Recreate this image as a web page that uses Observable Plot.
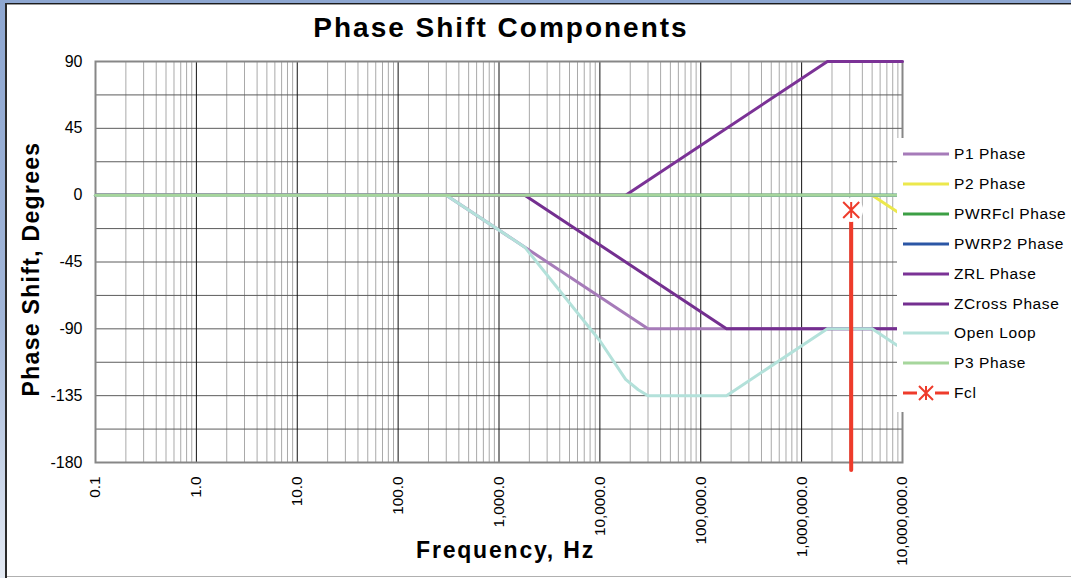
<!DOCTYPE html>
<html>
<head>
<meta charset="utf-8">
<script src="https://cdn.jsdelivr.net/npm/d3@7"></script>
<script src="https://cdn.jsdelivr.net/npm/@observablehq/plot@0.6"></script>
<style>
html, body { margin: 0; padding: 0; width: 1071px; height: 578px; overflow: hidden; background: #fff; }
#wrap { position: relative; width: 1071px; height: 578px; font-family: "Liberation Sans", Arial, sans-serif; color: #000; }
.abs { position: absolute; }
#chart { position: absolute; left: 0; top: 0; }
#title { left: 0; width: 1002px; top: 12px; text-align: center; font-weight: bold; font-size: 28px; letter-spacing: 2px; white-space: nowrap; }
#xtitle { left: 0; width: 1011px; top: 537px; text-align: center; font-weight: bold; font-size: 23px; letter-spacing: 1.8px; white-space: nowrap; }
#ytitle { left: 31px; top: 269px; transform: translate(-50%, -50%) rotate(-90deg); font-weight: bold; font-size: 23px; letter-spacing: 1.3px; white-space: nowrap; }
#legend { left: 897px; top: 138px; width: 174px; height: 274px; background: #fff; }
.item { position: absolute; left: 0; height: 20px; display: flex; align-items: center; white-space: nowrap; font-size: 15.5px; letter-spacing: 0.6px; }
.item svg { display: block; margin-right: 3px; }
</style>
</head>
<body>
<div id="wrap">
  <div class="abs" style="left:0;top:0;width:1071px;height:3px;background:#8ea7d1;"></div>
  <div class="abs" style="left:0;top:0;width:6px;height:578px;background:linear-gradient(#8ea7d1 0%, #a2b6d8 55%, #e4eaf3 100%);"></div>
  <div class="abs" style="left:6px;top:3px;width:1065px;height:1px;background:#1c1c1c;"></div>
  <div class="abs" style="left:6px;top:4px;width:1065px;height:1px;background:#9a9a9a;"></div>
  <div class="abs" style="left:5px;top:3px;width:2px;height:575px;background:#2a2a2a;"></div>
  <div class="abs" style="left:7px;top:576px;width:1064px;height:1px;background:#b0b0b0;"></div>
  <div id="chart"></div>
  <div id="title" class="abs">Phase Shift Components</div>
  <div id="xtitle" class="abs">Frequency, Hz</div>
  <div id="ytitle" class="abs">Phase Shift, Degrees</div>
  <div id="legend" class="abs"></div>
</div>
<script>
// ---- Data ----
const seriesNames  = ["P1 Phase", "P2 Phase", "PWRFcl Phase", "PWRP2 Phase", "ZRL Phase", "ZCross Phase", "Open Loop", "P3 Phase", "Fcl"];
const seriesColors = ["#a67bb9", "#ece84c", "#3c9f45", "#2b56a5", "#7b3296", "#742f90", "#b3e1da", "#a6d69c", "#ee3b2b"];

const p1Freq      = [0.1, 300, 30000, 1e7];
const p1Phase     = [0, 0, -90, -90];
const p2Freq      = [0.1, 5e6, 1e7];
const p2Phase     = [0, 0, -13.5];
const pwrFclFreq  = [0.1, 1e7];
const pwrFclPhase = [0, 0];
const pwrP2Freq   = [0.1, 1e7];
const pwrP2Phase  = [0, 0];
const zrlFreq     = [0.1, 18000, 1.8e6, 1e7];
const zrlPhase    = [0, 0, 90, 90];
const zcrossFreq  = [0.1, 1800, 180000, 1e7];
const zcrossPhase = [0, 0, -90, -90];
const openFreq    = [0.1, 300, 1800, 10000, 18000, 24000, 30000, 180000, 1.8e6, 5e6, 1e7];
const openPhase   = [0, 0, -35, -98, -124, -131, -135, -135, -90, -90, -103.5];
const p3Freq      = [0.1, 1e7];
const p3Phase     = [0, 0];
const fclFreq     = [3.1e6, 3.1e6];
const fclPhase    = [-10, -185];

const xTickValues = [0.1, 1, 10, 100, 1000, 10000, 100000, 1000000, 10000000];
const xTickLabels = ["0.1", "1.0", "10.0", "100.0", "1,000.0", "10,000.0", "100,000.0", "1,000,000.0", "10,000,000.0"];
const yTickValues = [90, 45, 0, -45, -90, -135, -180];
const yGridValues = [90, 67.5, 45, 22.5, 0, -22.5, -45, -67.5, -90, -112.5, -135, -157.5, -180];

// ---- Build tables ----
const seriesFreqs  = [p1Freq, p2Freq, pwrFclFreq, pwrP2Freq, zrlFreq, zcrossFreq, openFreq, p3Freq];
const seriesPhases = [p1Phase, p2Phase, pwrFclPhase, pwrP2Phase, zrlPhase, zcrossPhase, openPhase, p3Phase];
const lineTables = seriesFreqs.map((fs, i) => fs.map((f, j) => ({series: seriesNames[i], f, deg: seriesPhases[i][j]})));
const fclTable = fclFreq.map((f, j) => ({f, deg: fclPhase[j]}));
const minorGrid = [];
for (let k = 0; k < xTickValues.length - 1; k++) for (let m = 2; m <= 9; m++) minorGrid.push(m * xTickValues[k]);

const starSymbol = {
  draw(context, size) {
    const r = Math.sqrt(size / Math.PI);
    context.moveTo(0, -r); context.lineTo(0, r);
    context.moveTo(-r, -r); context.lineTo(r, r);
    context.moveTo(-r, r); context.lineTo(r, -r);
  }
};

const fclColor = seriesColors[8];

const chart = Plot.plot({
  width: 1071,
  height: 578,
  marginLeft: 95,
  marginRight: 169,
  marginTop: 61,
  marginBottom: 116,
  style: {background: "transparent", fontFamily: "'Liberation Sans', Arial, sans-serif", overflow: "visible"},
  x: {type: "log", domain: [0.1, 1e7], axis: null},
  y: {domain: [-180, 90], axis: null},
  marks: [
    Plot.ruleX(minorGrid, {stroke: "#a9a9a9", strokeWidth: 1}),
    Plot.ruleY(yGridValues, {stroke: "#5c5c5c", strokeWidth: 1}),
    Plot.ruleX(xTickValues, {stroke: "#111", strokeWidth: 1}),
    Plot.frame({stroke: "#878787", strokeWidth: 2}),
    ...lineTables.map((t, i) => Plot.line(t, {x: "f", y: "deg", stroke: seriesColors[i], strokeWidth: 3, curve: "linear"})),
    Plot.line(fclTable, {x: "f", y: "deg", stroke: fclColor, strokeWidth: 4}),
    Plot.dot(fclTable.slice(0, 1), {x: "f", y: "deg", r: 12, fill: "#fff", stroke: null}),
    Plot.dot(fclTable.slice(0, 1), {x: "f", y: "deg", r: 8, symbol: starSymbol, stroke: fclColor, strokeWidth: 2, fill: "none"}),
    Plot.text(yTickValues, {x: () => 0.1, y: d => d, text: d => String(d), textAnchor: "end", dx: -13, fontSize: 16, fill: "#000"}),
    Plot.text(xTickValues, {x: d => d, y: () => -180, text: (d, i) => xTickLabels[i], rotate: -90, textAnchor: "end", dy: 14, fontSize: 15.3, fill: "#000"})
  ]
});
document.getElementById("chart").appendChild(chart);

// ---- Legend ----
const legend = document.getElementById("legend");
seriesNames.forEach((name, i) => {
  const item = document.createElement("div");
  item.className = "item";
  item.style.top = (6 + i * 29.9) + "px";
  item.style.left = "4px";
  const ns = "http://www.w3.org/2000/svg";
  const svg = document.createElementNS(ns, "svg");
  svg.setAttribute("width", "50"); svg.setAttribute("height", "20");
  if (name === "Fcl") {
    svg.innerHTML = `<line x1="2" y1="10" x2="16" y2="10" stroke="${seriesColors[i]}" stroke-width="3"/>
      <line x1="34" y1="10" x2="48" y2="10" stroke="${seriesColors[i]}" stroke-width="3"/>
      <path d="M25,3V17M18,3L32,17M18,17L32,3" stroke="${seriesColors[i]}" stroke-width="2" fill="none"/>`;
  } else {
    svg.innerHTML = `<line x1="2" y1="10" x2="48" y2="10" stroke="${seriesColors[i]}" stroke-width="3"/>`;
  }
  item.appendChild(svg);
  const span = document.createElement("span");
  span.textContent = name;
  item.appendChild(span);
  legend.appendChild(item);
});
</script>
</body>
</html>
